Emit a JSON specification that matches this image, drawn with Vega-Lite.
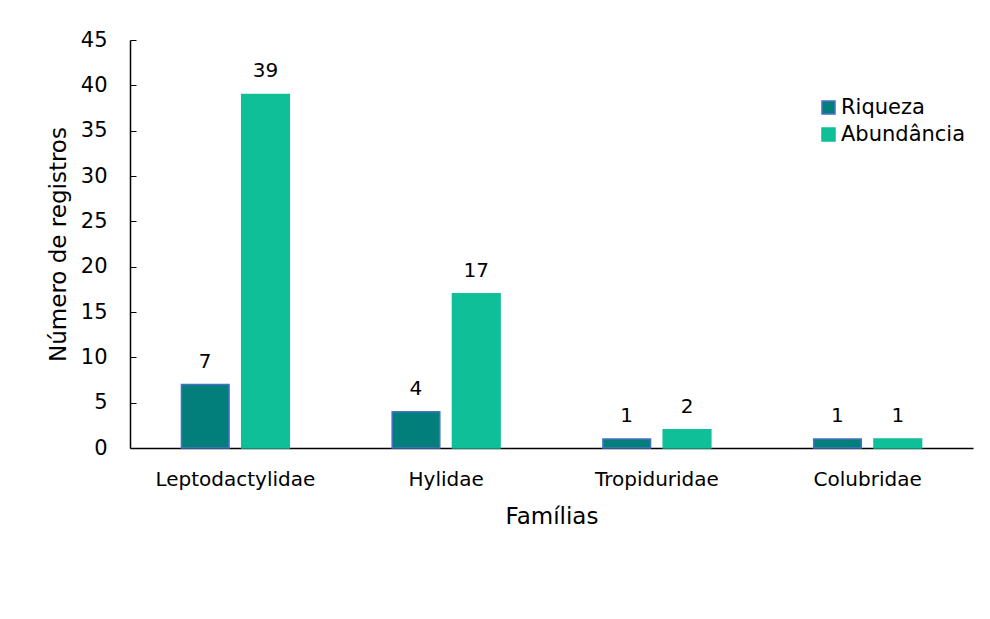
{
  "$schema": "https://vega.github.io/schema/vega-lite/v6.json",
  "width": 843,
  "height": 408,
  "autosize": {"type": "none"},
  "padding": {"left": 130, "top": 40, "right": 17, "bottom": 171},
  "background": "white",
  "config": {
    "view": {"stroke": null},
    "font": "DejaVu Sans",
    "axis": {"labelFont": "DejaVu Sans", "titleFont": "DejaVu Sans", "labelColor": "black", "titleColor": "black", "titleFontWeight": "normal", "domainColor": "black", "tickColor": "black", "grid": false}
  },
  "data": {
    "values": [
      {"familia": "Leptodactylidae", "serie": "Riqueza", "valor": 7},
      {"familia": "Leptodactylidae", "serie": "Abundância", "valor": 39},
      {"familia": "Hylidae", "serie": "Riqueza", "valor": 4},
      {"familia": "Hylidae", "serie": "Abundância", "valor": 17},
      {"familia": "Tropiduridae", "serie": "Riqueza", "valor": 1},
      {"familia": "Tropiduridae", "serie": "Abundância", "valor": 2},
      {"familia": "Colubridae", "serie": "Riqueza", "valor": 1},
      {"familia": "Colubridae", "serie": "Abundância", "valor": 1}
    ]
  },
  "encoding": {
    "x": {
      "field": "familia", "type": "nominal",
      "sort": ["Leptodactylidae", "Hylidae", "Tropiduridae", "Colubridae"],
      "scale": {"paddingInner": 0.488, "paddingOuter": 0.244},
      "axis": {"title": "Famílias", "labelAngle": 0, "ticks": false, "labelPadding": 21, "labelFontSize": 20, "titleFontSize": 23, "titlePadding": 16, "domainWidth": 1.5}
    },
    "xOffset": {"field": "serie", "type": "nominal", "sort": ["Riqueza", "Abundância"], "scale": {"paddingInner": 0.21}},
    "y": {
      "field": "valor", "type": "quantitative",
      "scale": {"domain": [0, 45]},
      "axis": {"title": "Número de registros", "values": [0,5,10,15,20,25,30,35,40,45], "tickSize": -6, "labelPadding": 29, "labelFontSize": 21, "titleFontSize": 23, "titlePadding": 10, "domainWidth": 1.5}
    }
  },
  "layer": [
    {
      "mark": {"type": "bar", "strokeWidth": 1.5},
      "encoding": {
        "color": {
          "field": "serie", "type": "nominal",
          "sort": ["Riqueza", "Abundância"],
          "scale": {"domain": ["Riqueza", "Abundância"], "range": ["#027E7B", "#0EBF97"]},
          "legend": {"title": null, "orient": "none", "legendX": 688, "legendY": 57, "symbolType": "square", "symbolSize": 169, "symbolOpacity": 1, "labelFontSize": 21, "labelFont": "DejaVu Sans", "labelColor": "black", "rowPadding": 5, "labelOffset": 2}
        },
        "stroke": {
          "field": "serie", "type": "nominal",
          "scale": {"domain": ["Riqueza", "Abundância"], "range": ["#4472C4", "#0EBF97"]},
          "legend": null
        }
      }
    },
    {
      "mark": {"type": "text", "baseline": "alphabetic", "dy": -17, "fontSize": 20, "color": "black", "font": "DejaVu Sans"},
      "encoding": {"text": {"field": "valor", "type": "quantitative"}}
    }
  ]
}
